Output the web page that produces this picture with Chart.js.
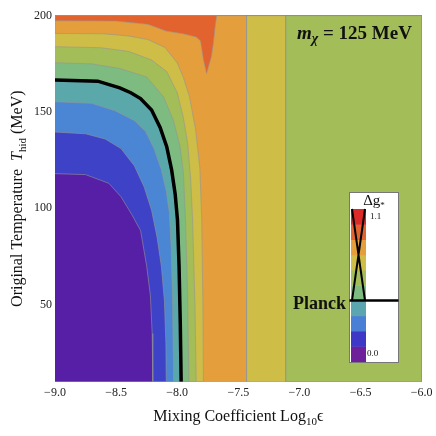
<!DOCTYPE html>
<html>
<head>
<meta charset="utf-8">
<script src="https://cdn.jsdelivr.net/npm/chart.js@4.4.1/dist/chart.umd.min.js"></script>
<style>
  html, body { margin: 0; padding: 0; background: #fff; }
  #wrap { width: 436px; height: 436px; }
</style>
</head>
<body>
<div id="wrap"><canvas id="myChart" width="436" height="436"></canvas></div>
<script>
// ---- datos ----
const xRange = [-9, -6];
const yRange = [10, 200];
const xTicks = [-9.0, -8.5, -8.0, -7.5, -7.0, -6.5, -6.0];
const yTicks = [50, 100, 150, 200];

// contornos verticales a la derecha
const edgeOrange = -7.433;   // naranja | amarillo
const edgeYellow = -7.113;   // amarillo | verde

// region roja superior
const regionRed = [[-9, 200], [-9, 197.4], [-8.5, 197.2], [-8.24, 195.5], [-8.09, 192], [-7.95, 190.6],
  [-7.845, 189], [-7.81, 187], [-7.785, 177], [-7.76, 170], [-7.72, 179], [-7.705, 185.6],
  [-7.69, 194.3], [-7.677, 200]];

// contornos desde el borde izquierdo hasta el borde inferior
const contourYellow = [[-9, 190.8], [-8.6, 190.6], [-8.4, 189.5], [-8.24, 187.6], [-8.1, 183.5], [-8.0, 175.5],
  [-7.95, 168], [-7.9, 158], [-7.85, 141], [-7.815, 121], [-7.8, 95], [-7.79, 50], [-7.786, 10]];
const contourYellowGreen = [[-9, 183.9], [-8.63, 183.4], [-8.4, 181.5], [-8.21, 177], [-8.086, 171], [-8.0, 160],
  [-7.95, 147], [-7.915, 134], [-7.89, 115], [-7.875, 95], [-7.855, 50], [-7.845, 10]];
const contourGreen = [[-9, 175.6], [-8.7, 175], [-8.47, 172.6], [-8.25, 168.2], [-8.113, 158], [-8.031, 145.7],
  [-7.976, 131.8], [-7.949, 118], [-7.933, 95], [-7.915, 55], [-7.905, 10]];
const contourPlanck = [[-9, 166.6], [-8.65, 166], [-8.47, 162.5], [-8.38, 160], [-8.3, 157], [-8.21, 151],
  [-8.14, 142], [-8.086, 132], [-8.046, 120], [-8.017, 107.5], [-7.998, 94], [-7.985, 70], [-7.975, 40], [-7.968, 10]];
const contourLightBlue = [[-9, 155.3], [-8.7, 154.5], [-8.51, 150.7], [-8.35, 145.5], [-8.26, 140], [-8.19, 131],
  [-8.13, 120], [-8.09, 109], [-8.065, 98], [-8.05, 80], [-8.038, 50], [-8.03, 10]];
const contourBlue = [[-9, 139.6], [-8.75, 138.7], [-8.59, 136], [-8.46, 131], [-8.35, 122], [-8.27, 111],
  [-8.21, 99], [-8.165, 85], [-8.13, 70], [-8.105, 52], [-8.093, 30], [-8.09, 10]];
const contourPurple = [[-9, 118], [-8.75, 117.5], [-8.56, 113], [-8.46, 106], [-8.374, 97], [-8.3, 88.5],
  [-8.25, 70], [-8.22, 55], [-8.205, 35], [-8.2, 10]];

// barra de colores (de abajo hacia arriba)
const colorbarColors = ['#6e209a', '#3f37c6', '#4a7fd6', '#5ba5b0', '#7dbb80', '#a3bd59', '#cebd46', '#e49e3b', '#e2632e', '#dc2a28'];
const colorbarLabels = ['0.0', '1.1'];
const planckBand = 4;

const serif = "'Liberation Serif', 'DejaVu Serif', serif";
const frameColor = '#8c8c8c';
const contourEdge = 'rgba(150,150,150,0.75)';

const toPts = arr => arr.map(p => ({x: p[0], y: p[1]}));
const corner = [xRange[0], yRange[0]];
const closeLL = arr => toPts(arr.concat([corner]));
const rectTo = xe => toPts([[xRange[0], yRange[0]], [xRange[0], yRange[1]], [xe, yRange[1]], [xe, yRange[0]]]);

const layers = [
  {pts: rectTo(xRange[1]), color: '#a3bd59'},
  {pts: rectTo(edgeYellow), color: '#cebd46'},
  {pts: rectTo(edgeOrange), color: '#e49e3b'},
  {pts: toPts(regionRed), color: '#e2632e'},
  {pts: closeLL(contourYellow), color: '#cebd46'},
  {pts: closeLL(contourYellowGreen), color: '#a3bd59'},
  {pts: closeLL(contourGreen), color: '#7dbb80'},
  {pts: closeLL(contourPlanck), color: '#5ba8aa'},
  {pts: closeLL(contourLightBlue), color: '#4a86d4'},
  {pts: closeLL(contourBlue), color: '#3e42c7'},
  {pts: closeLL(contourPurple), color: '#561fa6'}
];

const datasets = layers.map(l => ({
  data: l.pts,
  fill: 'shape',
  backgroundColor: l.color,
  borderColor: contourEdge,
  borderWidth: 0.8,
  pointRadius: 0,
  tension: 0
}));
datasets.push({
  data: toPts(contourPlanck),
  fill: false,
  borderColor: '#000',
  borderWidth: 3.5,
  pointRadius: 0,
  tension: 0
});
datasets.forEach((d, i) => { d.order = -i; });

const fmt = v => (v < 0 ? '\u2212' : '') + Math.abs(v).toFixed(1);
const isTick = (list, v) => list.some(t => Math.abs(t - v) < 1e-6);

function drawRich(ctx, parts, x, y, align) {
  let w = 0;
  parts.forEach(p => { ctx.font = p.font; w += ctx.measureText(p.text).width; });
  let cx = align === 'center' ? x - w / 2 : (align === 'right' ? x - w : x);
  ctx.textAlign = 'left';
  ctx.textBaseline = 'alphabetic';
  parts.forEach(p => {
    ctx.font = p.font;
    ctx.fillText(p.text, cx, y + (p.dy || 0));
    cx += ctx.measureText(p.text).width;
  });
}

const decor = {
  id: 'decor',
  afterDraw(chart) {
    const ctx = chart.ctx;
    const ca = chart.chartArea;
    ctx.save();
    ctx.fillStyle = '#111';

    // titulo eje x
    drawRich(ctx, [
      {text: 'Mixing Coefficient Log', font: '16px ' + serif},
      {text: '10', font: '11px ' + serif, dy: 4},
      {text: '\u03f5', font: '16px ' + serif}
    ], (ca.left + ca.right) / 2, 421, 'center');

    // titulo eje y
    ctx.save();
    ctx.translate(22, (ca.top + ca.bottom) / 2);
    ctx.rotate(-Math.PI / 2);
    drawRich(ctx, [
      {text: 'Original Temperature  ', font: '16px ' + serif},
      {text: 'T', font: 'italic 16px ' + serif},
      {text: 'hid', font: '11px ' + serif, dy: 4},
      {text: ' (MeV)', font: '16px ' + serif}
    ], 0, 0, 'center');
    ctx.restore();

    // etiqueta de masa
    drawRich(ctx, [
      {text: 'm', font: 'italic bold 19px ' + serif},
      {text: '\u03c7', font: 'italic bold 14px ' + serif, dy: 4},
      {text: ' = 125 MeV', font: 'bold 19px ' + serif}
    ], 297, 39, 'left');

    // caja de la barra de colores
    const bx = 349.5, by = 192.5, bw = 49, bh = 170;
    ctx.fillStyle = '#fff';
    ctx.fillRect(bx, by, bw, bh);
    ctx.strokeStyle = '#777';
    ctx.lineWidth = 1;
    ctx.strokeRect(bx, by, bw, bh);

    const sx = 351, sw = 15, sTop = 209, sBot = 361.5;
    const bandH = (sBot - sTop) / colorbarColors.length;
    colorbarColors.forEach((c, i) => {
      ctx.fillStyle = c;
      ctx.fillRect(sx, sBot - (i + 1) * bandH, sw, bandH + 0.5);
    });
    const py = sBot - planckBand * bandH;

    ctx.strokeStyle = '#000';
    ctx.lineWidth = 2;
    ctx.beginPath();
    ctx.moveTo(sx + 1, sTop); ctx.lineTo(sx + sw - 1, py);
    ctx.moveTo(sx + sw - 1, sTop); ctx.lineTo(sx + 1, py);
    ctx.stroke();

    ctx.lineWidth = 2.5;
    ctx.beginPath();
    ctx.moveTo(bx, py); ctx.lineTo(bx + bw, py);
    ctx.stroke();

    ctx.fillStyle = '#111';
    drawRich(ctx, [
      {text: '\u0394g', font: '15px ' + serif},
      {text: '*', font: '9px ' + serif, dy: 3}
    ], 374, 205, 'center');
    drawRich(ctx, [{text: colorbarLabels[1], font: '9px ' + serif}], 370, 219, 'left');
    drawRich(ctx, [{text: colorbarLabels[0], font: '9px ' + serif}], 367, 356, 'left');

    drawRich(ctx, [{text: 'Planck', font: 'bold 18px ' + serif}], 346, 309, 'right');
    ctx.restore();
  }
};

const tickFont = {family: serif, size: 12};
const gridCommon = {drawOnChartArea: false, drawTicks: true, tickLength: -4, tickColor: '#555', tickWidth: 1};
const borderCommon = {display: true, color: frameColor, width: 1};
const noPad = s => { s.paddingLeft = 0; s.paddingRight = 0; s.paddingTop = 0; s.paddingBottom = 0; };

const ctx = document.getElementById('myChart').getContext('2d');
const myChart = new Chart(ctx, {
  type: 'line',
  data: {datasets: datasets},
  plugins: [decor],
  options: {
    responsive: false,
    animation: false,
    devicePixelRatio: 1,
    layout: {padding: 0},
    plugins: {
      legend: {display: false},
      tooltip: {enabled: false},
      filler: {drawTime: 'beforeDatasetDraw'}
    },
    scales: {
      x: {
        type: 'linear', position: 'bottom', min: xRange[0], max: xRange[1], z: 2,
        afterFit: s => { s.height = 54.3; noPad(s); },
        border: borderCommon, grid: gridCommon,
        ticks: {
          stepSize: 0.1, autoSkip: false, maxRotation: 0, padding: 8, color: '#222', font: tickFont,
          callback: v => isTick(xTicks, v) ? fmt(v) : ''
        }
      },
      x2: {
        type: 'linear', position: 'top', min: xRange[0], max: xRange[1], z: 2,
        afterFit: s => { s.height = 15.7; noPad(s); },
        border: borderCommon, grid: gridCommon,
        ticks: {stepSize: 0.1, autoSkip: false, maxRotation: 0, display: false}
      },
      y: {
        type: 'linear', position: 'left', min: yRange[0], max: yRange[1], z: 2,
        afterFit: s => { s.width = 55; noPad(s); },
        border: borderCommon, grid: gridCommon,
        ticks: {
          stepSize: 10, autoSkip: false, padding: 7, color: '#222', font: tickFont,
          callback: v => isTick(yTicks, v) ? String(v) : ''
        }
      },
      y2: {
        type: 'linear', position: 'right', min: yRange[0], max: yRange[1], z: 2,
        afterFit: s => { s.width = 14.3; noPad(s); },
        border: borderCommon, grid: gridCommon,
        ticks: {stepSize: 10, autoSkip: false, display: false}
      }
    }
  }
});
</script>
</body>
</html>
